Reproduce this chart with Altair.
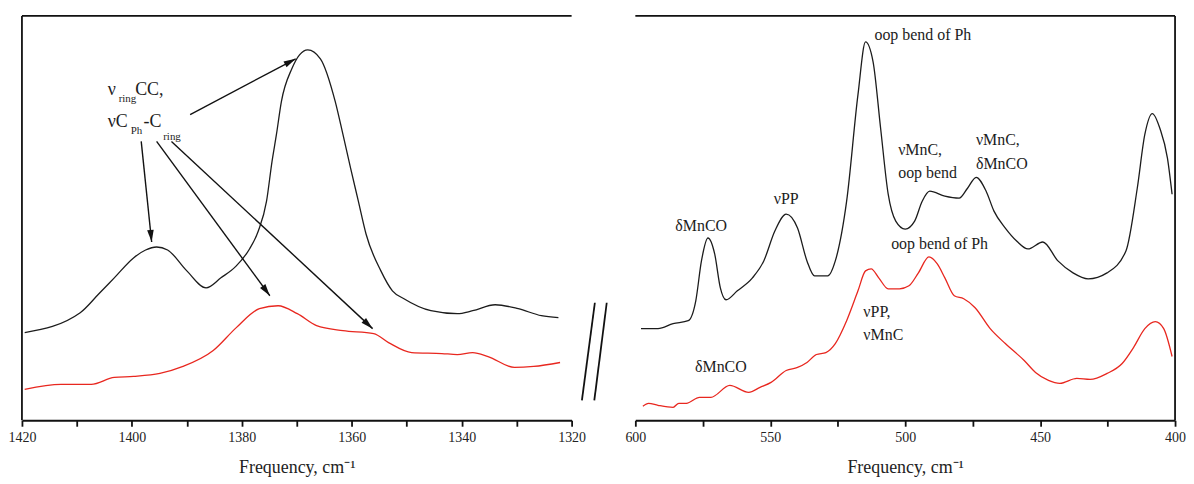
import math
import altair as alt
import pandas as pd

FONT = "Liberation Serif"

# ---------------- data (arbitrary intensity units) ----------------
# Left panel: 1420-1320 cm-1
lb_freq = [1419.5, 1409.4, 1406.0, 1403.2, 1399.7, 1397.5, 1395.5, 1393.5, 1390.0, 1386.5, 1383.8,
           1381.0, 1378.6, 1377.0, 1375.5, 1374.5, 1373.7, 1372.8, 1370.9, 1369.5, 1368.0, 1365.7,
           1363.0, 1361.6, 1360.2, 1358.8, 1357.4, 1354.7, 1352.6, 1350.5, 1345.6, 1340.8, 1338.0,
           1333.9, 1329.7, 1325.5, 1322.4]
lb_int = [88, 108, 127, 143, 163, 171, 174, 171, 150, 133, 143,
          155, 172, 190, 220, 260, 287, 320, 353, 367, 372, 363,
          320, 287, 253, 220, 187, 150, 130, 122, 110, 107, 110,
          116, 112, 105, 103]

lr_freq = [1419.5, 1412.9, 1407.4, 1403.2, 1399.7, 1394.9, 1390.7, 1385.2, 1381.0, 1376.8, 1373.4,
           1369.9, 1366.4, 1361.6, 1356.0, 1353.3, 1349.1, 1343.6, 1340.8, 1338.0, 1335.2, 1330.4,
           1326.9, 1322.1]
lr_int = [31, 36, 36, 43, 44, 47, 54, 70, 93, 112, 115,
          107, 95, 90, 87, 78, 68, 67, 66, 68, 64, 53,
          54, 58]

# Right panel: 600-400 cm-1
rb_freq = [597.9, 591.6, 586.0, 580.4, 577.6, 575.5, 573.1, 570.6, 568.5, 566.4, 562.2, 556.6,
           552.4, 548.3, 544.1, 539.9, 536.4, 533.6, 528.7, 525.9, 521.7, 517.5, 514.7, 511.9,
           509.1, 506.3, 503.5, 500.0, 496.5, 493.7, 490.9, 485.3, 480.0, 476.9, 473.7, 470.0,
           467.1, 462.9, 458.7, 454.5, 449.0, 443.4, 437.8, 432.2, 425.2, 418.2, 414.0, 411.2,
           408.4, 405.6, 402.8, 401.1]
rb_int = [92, 92, 97, 100, 120, 160, 183, 167, 133, 121, 130, 143,
          160, 190, 207, 193, 160, 145, 145, 160, 220, 327, 380, 360,
          293, 227, 200, 192, 200, 220, 230, 225, 223, 233, 244, 230,
          210, 193, 180, 172, 179, 160, 148, 142, 148, 170, 233, 287,
          308, 293, 263, 227]

rr_freq = [597.2, 595.1, 591.6, 586.0, 583.9, 581.1, 576.2, 572.0, 565.0, 558.0, 553.8, 549.7,
           544.1, 539.9, 536.4, 532.9, 529.4, 525.9, 521.7, 517.5, 514.7, 512.6, 509.8, 506.3,
           502.1, 498.6, 495.1, 491.2, 488.1, 485.3, 481.8, 478.3, 474.1, 468.5, 462.9, 455.9,
           451.7, 446.9, 442.7, 436.4, 431.5, 425.2, 419.6, 415.4, 411.2, 407.3, 404.2, 401.1]
rr_int = [14, 17, 15, 13, 17, 17, 23, 23, 35, 28, 33, 38,
          50, 53, 58, 66, 68, 77, 100, 130, 150, 152, 143, 132,
          132, 135, 148, 164, 157, 143, 125, 122, 113, 92, 77, 60,
          48, 40, 37, 42, 41, 47, 57, 73, 92, 99, 92, 64]

series_names = ["black", "red"]
series_colors = ["#1c1c1c", "#e8271f"]

# annotations (text, frequency, intensity, font size)
left_texts = ["\u03bd", "ring", "CC,", "\u03bdC", "Ph", "-C", "ring"]
left_text_f = [1404.4, 1402.4, 1399.4, 1404.4, 1400.2, 1397.9, 1394.3]
left_text_i = [327, 320, 327, 294, 287, 294, 281]
left_text_size = [18, 11, 18, 18, 11, 18, 11]

left_arrow_f1 = [1389.4, 1398.3, 1395.5, 1392.8]
left_arrow_i1 = [307, 280, 280, 280]
left_arrow_f2 = [1370.2, 1396.4, 1374.9, 1356.2]
left_arrow_i2 = [363, 179, 125, 92]

right_texts = ["oop bend of Ph", "\u03b4MnCO", "\u03bdPP", "\u03bdMnC,", "oop bend", "\u03bdMnC,", "\u03b4MnCO",
               "oop bend of Ph", "\u03bdPP,", "\u03bdMnC", "\u03b4MnCO"]
right_text_f = [511.4, 585.2, 548.7, 502.6, 502.6, 473.8, 473.8, 505.2, 515.5, 515.5, 577.9]
right_text_i = [382, 190, 217, 266, 243, 276, 252, 172, 104, 81, 48]

break_f1 = [615.0, 610.6]
break_i1 = [118, 118]
break_f2 = [619.8, 615.2]
break_i2 = [20, 20]

# ---------------- layout ----------------
L_W, L_H = 552, 406
R_W, R_H = 542, 406
Y_MAX = 406
ARROW = "M0,0L-0.6,2.2L0.6,2.2Z"

yscale = alt.Scale(domain=[0, Y_MAX], nice=False, zero=False)


def xaxis(values, step):
    return alt.Axis(values=values, format="d",
                    labelExpr=f"datum.value % {step} == 0 ? datum.label : ''",
                    title="Frequency, cm\u207b\u00b9", grid=False, labelFlush=False,
                    domainColor="#111", domainWidth=1.8, tickColor="#111", tickWidth=1.8, tickSize=6,
                    labelFont=FONT, labelFontSize=14, labelColor="#222", labelPadding=4,
                    titleFont=FONT, titleFontSize=18, titleFontWeight="normal", titleColor="#222",
                    titlePadding=14)


def line_df(fa, ia, fb, ib):
    return pd.concat([
        pd.DataFrame({"f": fa, "I": ia, "series": series_names[0]}),
        pd.DataFrame({"f": fb, "I": ib, "series": series_names[1]}),
    ])


def panel(lines, x_scale, x_axis, W, H, texts, arrows=None, breaks=None, border_side="left"):
    X = lambda fld: alt.X(fld, type="quantitative", scale=x_scale, axis=x_axis)
    Y = lambda fld: alt.Y(fld, type="quantitative", scale=yscale, axis=None)
    layers = []
    layers.append(alt.Chart(lines).mark_line(interpolate="monotone", strokeWidth=1.3).encode(
        x=X("f"), y=Y("I"),
        color=alt.Color("series:N", scale=alt.Scale(domain=series_names, range=series_colors), legend=None),
        detail="series:N"))
    layers.append(alt.Chart(texts).mark_text(align="left", baseline="alphabetic", font=FONT, color="#1c1c1c").encode(
        x=X("f"), y=Y("I"), text="text:N", size=alt.Size("size:Q", scale=None)))
    if arrows is not None:
        layers.append(alt.Chart(arrows).mark_rule(strokeWidth=1.4, color="#111").encode(
            x=X("f1"), x2="f2", y=Y("i1"), y2="i2"))
        layers.append(alt.Chart(arrows).mark_point(shape=ARROW, filled=True, opacity=1, color="#111",
                                                   size=121, strokeWidth=0).encode(
            x=X("f2"), y=Y("i2"), angle=alt.Angle("ang:Q", scale=None)))
    if breaks is not None:
        layers.append(alt.Chart(breaks).mark_rule(strokeWidth=1.8, color="#111").encode(
            x=X("f1"), x2="f2", y=Y("i1"), y2="i2"))
    border = pd.DataFrame({"k": [0]})
    layers.append(alt.Chart(border).mark_rule(strokeWidth=1.8, color="#111").encode(
        x=alt.value(0), x2=alt.value(W), y=alt.value(0)))
    xb = 0 if border_side == "left" else W
    layers.append(alt.Chart(border).mark_rule(strokeWidth=1.8, color="#111").encode(
        x=alt.value(xb), y=alt.value(0), y2=alt.value(H)))
    return alt.layer(*layers).properties(width=W, height=H)


# left panel
lx_scale = alt.Scale(domain=[1320, 1420], reverse=True, nice=False, zero=False)
left_lines = line_df(lb_freq, lb_int, lr_freq, lr_int)
left_text_df = pd.DataFrame({"text": left_texts, "f": left_text_f, "I": left_text_i, "size": left_text_size})
arr = pd.DataFrame({"f1": left_arrow_f1, "i1": left_arrow_i1, "f2": left_arrow_f2, "i2": left_arrow_i2})
kx = L_W / 100.0
ky = L_H / Y_MAX
arr["ang"] = [
    (math.degrees(math.atan2(-(b - a) * kx, (d - c) * ky)) + 360) % 360
    for a, b, c, d in zip(arr.f1, arr.f2, arr.i1, arr.i2)
]
left = panel(left_lines, lx_scale, xaxis(list(range(1320, 1421, 10)), 20), L_W, L_H,
             left_text_df, arrows=arr, border_side="left")

# right panel
rx_scale = alt.Scale(domain=[400, 600], reverse=True, nice=False, zero=False)
right_lines = line_df(rb_freq, rb_int, rr_freq, rr_int)
right_text_df = pd.DataFrame({"text": right_texts, "f": right_text_f, "I": right_text_i,
                              "size": [16] * len(right_texts)})
brk = pd.DataFrame({"f1": break_f1, "i1": break_i1, "f2": break_f2, "i2": break_i2})
right = panel(right_lines, rx_scale, xaxis(list(range(400, 601, 25)), 50), R_W, R_H,
              right_text_df, breaks=brk, border_side="right")

chart = alt.hconcat(left, right, spacing=64, bounds="flush").properties(
    padding={"left": 0, "top": 6, "right": 0, "bottom": 0},
    background="white",
).configure_view(strokeWidth=0, stroke="transparent")

chart.save("out.html", embed_options={"renderer": "svg", "actions": False})
